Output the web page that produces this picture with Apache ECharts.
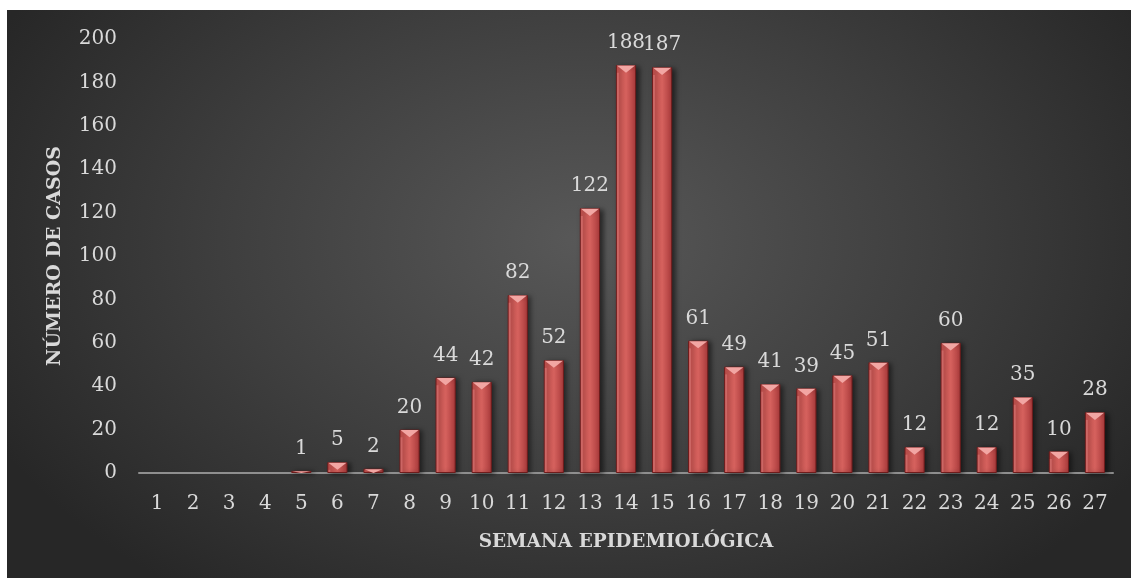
<!DOCTYPE html>
<html>
<head>
<meta charset="utf-8">
<script src="https://cdn.jsdelivr.net/npm/echarts@6/dist/echarts.min.js"></script>
<style>
  html, body { margin: 0; padding: 0; background: #fff; }
  #chart {
    position: absolute;
    left: 7px;
    top: 10px;
    width: 1124px;
    height: 568px;
    background: radial-gradient(ellipse 660px 440px at 575px 230px, #585858 0%, #3e3e3e 55%, #272727 100%);
  }
</style>
</head>
<body>
<div id="chart"></div>
<script>
var weeks = ["1", "2", "3", "4", "5", "6", "7", "8", "9", "10", "11", "12", "13", "14",
  "15", "16", "17", "18", "19", "20", "21", "22", "23", "24", "25", "26", "27"];
var cases = [null, null, null, null, 1, 5, 2, 20, 44, 42, 82, 52, 122, 188,
  187, 61, 49, 41, 39, 45, 51, 12, 60, 12, 35, 10, 28];
var yTicks = { min: 0, max: 200, step: 20 };

var textColor = "#d9d9d9";
var serif = "'DejaVu Serif', 'Liberation Serif', serif";

var myChart = echarts.init(document.getElementById("chart"));

// triangle "bevel" on top of each bar
function bevelItem(params, api) {
  var v = api.value(1);
  if (v == null || isNaN(v) || v <= 0) return;
  var top = api.coord([api.value(0), v]);
  var base = api.coord([api.value(0), 0]);
  var w = api.size([1, 0])[0] * 0.56;
  var h = base[1] - top[1];
  var bh = Math.min(h, w * 0.38);
  var x0 = top[0] - w / 2 + 1;
  var x1 = top[0] + w / 2 - 1;
  return {
    type: "group",
    children: [
      {
        type: "polygon",
        shape: { points: [[x0, top[1] + 0.5], [x1, top[1] + 0.5], [top[0], top[1] + bh]] },
        style: { fill: "#f2a6a3" }
      },
      {
        type: "rect",
        shape: { x: x0, y: top[1] + bh, width: 2, height: Math.max(0, h - bh - 1) },
        style: { fill: "rgba(240,150,150,0.35)" }
      }
    ]
  };
}

var option = {
  animation: false,
  grid: { left: 132, right: 18, top: 29, bottom: 105 },
  xAxis: {
    type: "category",
    data: weeks,
    name: "SEMANA EPIDEMIOLÓGICA",
    nameLocation: "middle",
    nameGap: 60,
    nameTextStyle: { color: textColor, fontFamily: serif, fontWeight: "bold", fontSize: 18.5 },
    axisLine: { lineStyle: { color: "#8f8f8f", width: 2 } },
    axisTick: { show: false },
    axisLabel: { color: textColor, fontFamily: serif, fontSize: 20, margin: 21 }
  },
  yAxis: {
    type: "value",
    min: yTicks.min,
    max: yTicks.max,
    interval: yTicks.step,
    name: "NÚMERO DE CASOS",
    nameLocation: "middle",
    nameGap: 74,
    nameTextStyle: { color: textColor, fontFamily: serif, fontWeight: "bold", fontSize: 19 },
    axisLine: { show: false },
    axisTick: { show: false },
    splitLine: { show: false },
    axisLabel: { color: textColor, fontFamily: serif, fontSize: 20, margin: 22 }
  },
  series: [
    {
      type: "bar",
      data: cases,
      barWidth: "56%",
      itemStyle: {
        color: new echarts.graphic.LinearGradient(0, 0, 1, 0, [
          { offset: 0, color: "#c4504d" },
          { offset: 0.5, color: "#d6625e" },
          { offset: 1, color: "#a8393a" }
        ]),
        borderColor: "#6e1c1c",
        borderWidth: 1,
        shadowColor: "rgba(0,0,0,0.55)",
        shadowBlur: 5,
        shadowOffsetX: 3,
        shadowOffsetY: 1
      },
      label: {
        show: true,
        position: "top",
        distance: 12,
        color: textColor,
        fontFamily: serif,
        fontSize: 20
      }
    },
    {
      type: "custom",
      renderItem: bevelItem,
      data: cases.map(function (v, i) { return [i, v]; }),
      encode: { x: 0, y: 1 },
      z: 3,
      silent: true
    }
  ]
};

myChart.setOption(option);
</script>
</body>
</html>
